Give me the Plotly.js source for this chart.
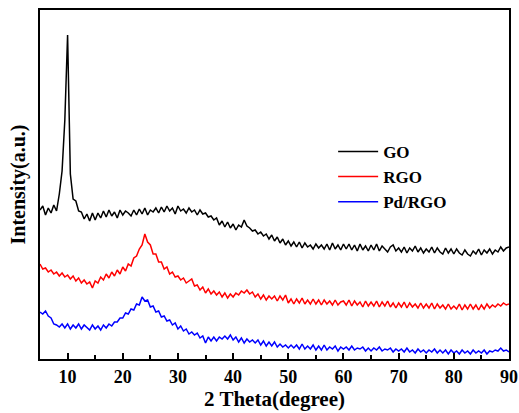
<!DOCTYPE html>
<html>
<head>
<meta charset="utf-8">
<script src="https://cdn.plot.ly/plotly-3.0.1.min.js"></script>
<style>html,body{margin:0;padding:0;background:#fff;}#chart{width:519px;height:413px;}</style>
</head>
<body>
<div id="chart"></div>
<script>
// 2 Theta grid, 5 to 90 deg in 0.5 deg steps
var twoTheta = [
  5,5.5,6,6.5,7,7.5,8,8.5,9,9.5,
  10,10.5,11,11.5,12,12.5,13,13.5,14,14.5,
  15,15.5,16,16.5,17,17.5,18,18.5,19,19.5,
  20,20.5,21,21.5,22,22.5,23,23.5,24,24.5,
  25,25.5,26,26.5,27,27.5,28,28.5,29,29.5,
  30,30.5,31,31.5,32,32.5,33,33.5,34,34.5,
  35,35.5,36,36.5,37,37.5,38,38.5,39,39.5,
  40,40.5,41,41.5,42,42.5,43,43.5,44,44.5,
  45,45.5,46,46.5,47,47.5,48,48.5,49,49.5,
  50,50.5,51,51.5,52,52.5,53,53.5,54,54.5,
  55,55.5,56,56.5,57,57.5,58,58.5,59,59.5,
  60,60.5,61,61.5,62,62.5,63,63.5,64,64.5,
  65,65.5,66,66.5,67,67.5,68,68.5,69,69.5,
  70,70.5,71,71.5,72,72.5,73,73.5,74,74.5,
  75,75.5,76,76.5,77,77.5,78,78.5,79,79.5,
  80,80.5,81,81.5,82,82.5,83,83.5,84,84.5,
  85,85.5,86,86.5,87,87.5,88,88.5,89,89.5,
  90
];
var goIntensity = [
  149,153,144,151,146,154,148,165,188,239,
  324,185,160,158,148,147,140,145,138,146,
  139,146,141,148,142,149,143,147,141,149,
  144,148,146,143,149,144,150,145,151,144,
  149,147,151,146,152,147,153,148,151,145,
  153,148,150,146,151,147,149,144,149,145,
  146,142,143,139,141,134,138,132,137,131,
  135,129,134,132,139,133,131,128,129,125,
  127,123,125,120,124,118,122,116,120,114,
  118,113,117,112,117,111,116,112,114,110,
  115,111,114,110,115,109,116,110,114,109,
  115,110,115,109,114,108,115,109,113,108,
  114,109,115,108,113,110,107,112,114,108,
  111,107,112,106,111,108,113,107,111,106,
  110,107,112,106,111,107,105,111,106,110,
  105,110,106,104,109,105,103,108,105,110,
  104,109,106,110,105,109,107,112,108,111,
  112
];
var rgoIntensity = [
  95,90,91,87,89,85,87,83,86,82,
  84,80,83,78,81,76,79,75,77,71,
  78,76,82,79,85,81,87,83,89,85,
  92,88,95,93,101,103,110,114,125,117,
  114,105,105,97,97,90,92,85,87,82,
  83,79,81,76,78,80,73,74,69,72,
  66,70,65,68,64,67,62,66,61,65,
  62,66,64,68,66,69,65,67,62,65,
  60,64,59,63,60,63,58,63,59,64,
  56,60,55,60,56,61,55,59,55,60,
  55,59,54,59,55,58,54,59,54,57,
  58,54,59,53,58,54,57,52,58,53,
  57,53,58,52,57,53,58,52,56,51,
  56,52,57,51,56,52,55,51,56,51,
  55,51,56,50,55,51,54,50,55,50,
  53,50,55,49,54,50,55,50,54,49,
  54,50,55,51,54,52,55,53,56,54,
  55
];
var pdRgoIntensity = [
  47,45,48,43,41,35,34,32,35,31,
  35,30,34,31,35,30,34,31,29,34,
  30,33,29,34,31,35,33,37,37,41,
  41,46,45,50,49,55,54,62,58,59,
  52,53,47,48,42,43,38,39,34,36,
  30,33,28,30,25,27,24,26,21,23,
  16,22,18,22,18,22,20,23,20,24,
  19,22,17,21,16,20,17,19,16,19,
  14,18,13,17,13,17,12,15,12,14,
  11,14,11,14,10,15,10,13,10,14,
  9,13,9,14,9,12,10,13,8,12,
  10,12,9,13,9,11,10,12,8,11,
  8,11,9,12,8,10,9,11,7,10,
  8,10,7,11,7,9,6,10,7,9,
  6,9,7,10,6,9,6,9,5,9,
  6,8,5,9,6,8,5,9,6,8,
  6,9,5,8,7,9,8,11,8,9,
  7
];
var seriesNames = ["GO", "RGO", "Pd/RGO"];
var xTickVals = [10,20,30,40,50,60,70,80,90];

var FONT = "'Liberation Serif', 'Times New Roman', serif";
var traces = [
  {x: twoTheta, y: goIntensity, name: seriesNames[0], mode: "lines", line: {color: "#000000", width: 1.5}},
  {x: twoTheta, y: rgoIntensity, name: seriesNames[1], mode: "lines", line: {color: "#ff0000", width: 1.5}},
  {x: twoTheta, y: pdRgoIntensity, name: seriesNames[2], mode: "lines", line: {color: "#0000ff", width: 1.5}}
];
var layout = {
  width: 519, height: 413,
  margin: {l: 40, r: 10, t: 10, b: 54},
  paper_bgcolor: "#ffffff", plot_bgcolor: "#ffffff",
  font: {family: FONT, color: "#000000"},
  showlegend: true,
  legend: {x: 0.625, y: 0.645, xanchor: "left", yanchor: "top", bgcolor: "rgba(0,0,0,0)",
           font: {family: FONT, size: 17, weight: "bold", color: "#000"}, tracegroupgap: 0, itemwidth: 40},
  xaxis: {
    range: [5, 90], tickvals: xTickVals, ticktext: xTickVals.map(String),
    ticks: "inside", ticklen: 6, tickwidth: 2, tickcolor: "#000",
    minor: {dtick: 5, tick0: 5, ticks: "inside", ticklen: 4, tickwidth: 2, tickcolor: "#000"},
    showline: true, linewidth: 2, linecolor: "#000", mirror: true,
    showgrid: false, zeroline: false,
    tickfont: {family: FONT, size: 18, weight: "bold", color: "#000"},
    title: {text: "2 Theta(degree)", font: {family: FONT, size: 21, weight: "bold", color: "#000"}, standoff: 4}
  },
  yaxis: {
    range: [0, 349], showticklabels: false, ticks: "",
    showline: true, linewidth: 2, linecolor: "#000", mirror: true,
    showgrid: false, zeroline: false,
    title: {text: "Intensity(a.u.)", font: {family: FONT, size: 20, weight: "bold", color: "#000"}, standoff: 7}
  }
};
Plotly.newPlot("chart", traces, layout, {displayModeBar: false, staticPlot: true});
</script>
</body>
</html>
